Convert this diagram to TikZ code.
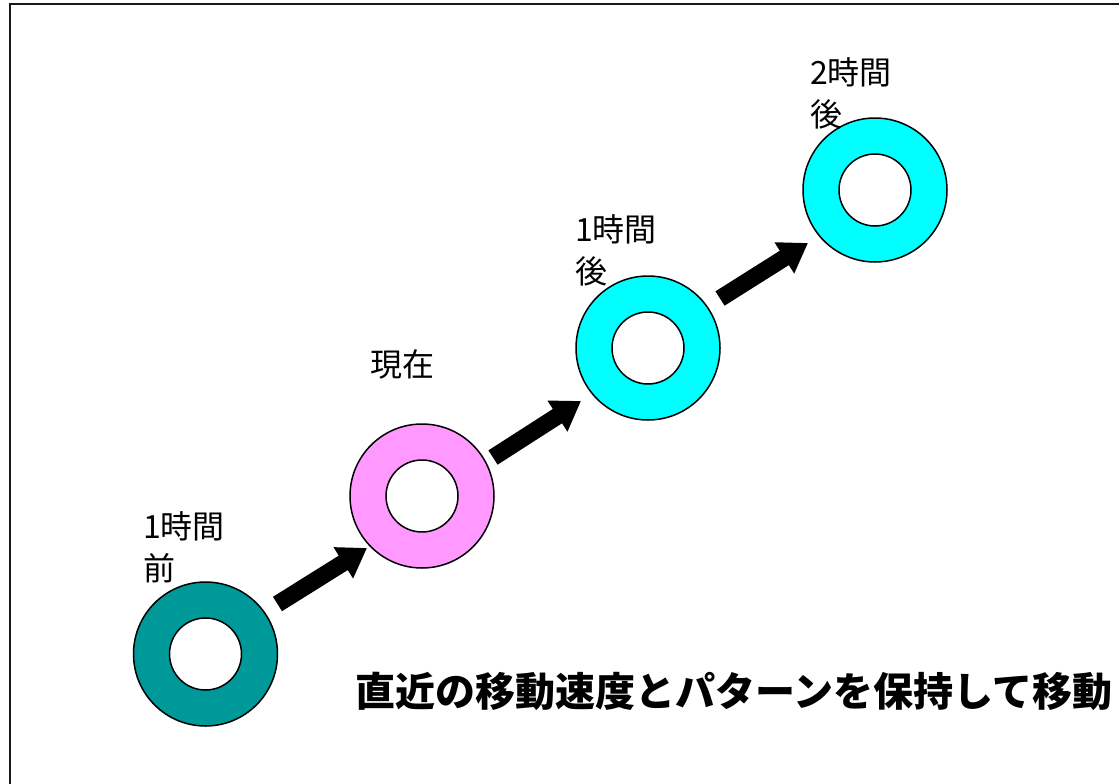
\documentclass[tikz,border=0pt]{standalone}
\usepackage{fontspec}
\newfontfamily\jp{Noto Sans CJK JP}
\usetikzlibrary{arrows.meta}
\definecolor{ringteal}{RGB}{0,153,153}
\definecolor{ringpink}{RGB}{255,153,255}
\definecolor{ringcyan}{RGB}{0,255,255}
\tikzset{
  ring/.style={circle, draw=black, line width=1.5pt, minimum size=144pt, inner sep=0pt},
  hole/.style={circle, draw=black, fill=white, line width=1.5pt, minimum size=72pt, inner sep=0pt},
  lbl/.style={anchor=north west, inner sep=0pt, align=left, font=\jp\fontsize{32}{42}\selectfont},
  blockarrow/.style={line width=17pt, -{Triangle[length=28pt,width=35pt]}},
  caption/.style={anchor=west, inner sep=0pt, font=\jp\bfseries\fontsize{40}{44}\selectfont}
}
\begin{document}
\begin{tikzpicture}[x=1pt,y=-1pt]
\useasboundingbox (0,0) rectangle (1119,784);
\clip (0,0) rectangle (1119,784);
\fill[white] (0,0) rectangle (1119,784);
\draw[line width=2pt, black!90] (9.5,4.5) rectangle (1140,800);

\node[ring, fill=ringteal] (c1) at (205.5,654) {};
\node[hole] (h1) at (c1) {};
\node[ring, fill=ringpink] (c2) at (422,496) {};
\node[hole] (h2) at (c2) {};
\node[ring, fill=ringcyan] (c3) at (648,348) {};
\node[hole] (h3) at (c3) {};
\node[ring, fill=ringcyan] (c4) at (875,190) {};
\node[hole] (h4) at (c4) {};

\coordinate (a1s) at (277.5,604);
\coordinate (a1e) at (367,548);
\coordinate (a2s) at (493,457.5);
\coordinate (a2e) at (581,401);
\coordinate (a3s) at (720,298.5);
\coordinate (a3e) at (808,243);
\draw[blockarrow] (a1s) -- (a1e);
\draw[blockarrow] (a2s) -- (a2e);
\draw[blockarrow] (a3s) -- (a3e);

\node[lbl] (l1) at (143,511) {1時間\\前};
\node[lbl] (l2) at (370,349) {現在};
\node[lbl] (l3) at (575,214) {1時間\\後};
\node[lbl] (l4) at (810,57) {2時間\\後};

\node[caption] (cap) at (355,691) {直近の移動速度とパターンを保持して移動};
\end{tikzpicture}
\end{document}
